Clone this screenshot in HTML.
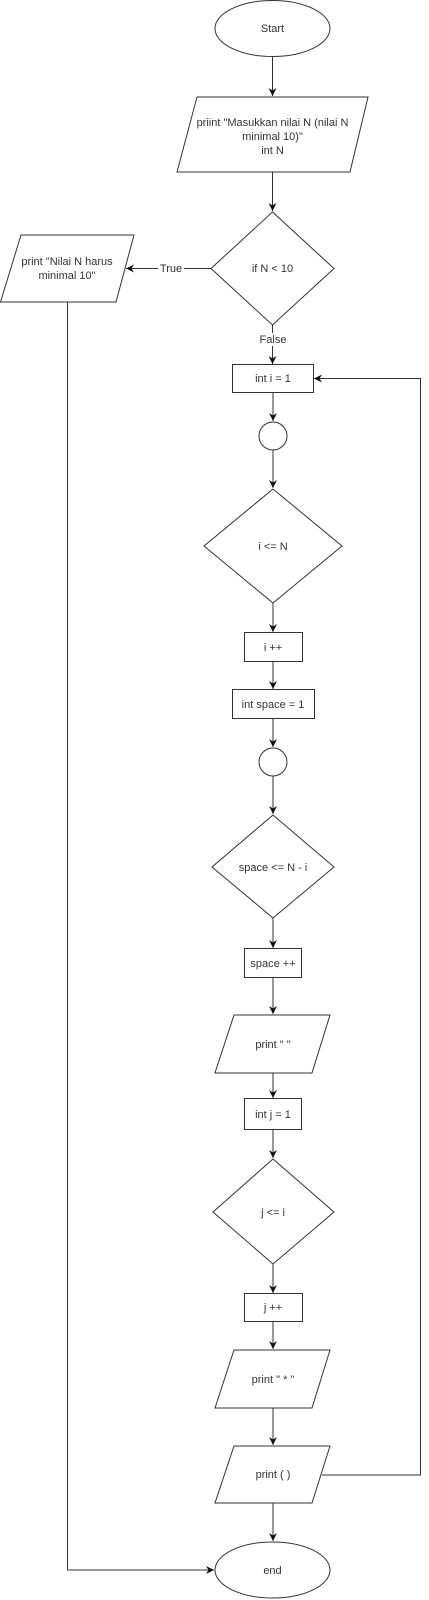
<!DOCTYPE html>
<html><head><meta charset="utf-8"><style>
html,body{margin:0;padding:0;background:#fff;}
svg{display:block;}
text{font-family:"Liberation Sans",Arial,sans-serif;font-size:11px;fill:#333;text-anchor:middle;}
</style></head><body>
<svg width="429" height="1600" viewBox="0 0 429 1600" xmlns="http://www.w3.org/2000/svg">
<defs>
<marker id="a" markerWidth="10" markerHeight="10" refX="8" refY="5" orient="auto" markerUnits="userSpaceOnUse">
<path d="M0,1 L8,5 L0,9 L2.5,5 Z" fill="#111"/>
</marker>
</defs>
<g fill="#fff" stroke="#333" stroke-width="1">
<ellipse cx="272.5" cy="28.5" rx="57.5" ry="28"/>
<polygon points="197,97 368,97 350,172 177,172"/>
<polygon points="272.5,212 334,268.5 272.5,325 211,268.5"/>
<polygon points="21,235 134,235 116,302 0.5,302"/>
<rect x="232.5" y="364.5" width="81" height="28"/>
<circle cx="273" cy="436" r="14"/>
<polygon points="273,489 342,546 273,603 204,546"/>
<rect x="244.5" y="632.5" width="58" height="29"/>
<rect x="232.5" y="689.5" width="82" height="29"/>
<circle cx="273" cy="762" r="14"/>
<polygon points="273,815 334,867 273,918 212,867"/>
<rect x="244.5" y="948.5" width="57" height="29"/>
<polygon points="234,1015 330,1015 312,1073 215,1073"/>
<rect x="244.5" y="1098.5" width="57" height="31"/>
<polygon points="273,1159 334,1212 273,1264 213,1212"/>
<rect x="244.5" y="1293.5" width="58" height="28"/>
<polygon points="234,1350 330,1350 312,1408 215,1408"/>
<polygon points="234,1446 330,1446 312,1503 215,1503"/>
<ellipse cx="272.5" cy="1570" rx="57.5" ry="28"/>
</g>
<g fill="none" stroke="#333" stroke-width="1">
<line x1="272.5" y1="57" x2="272.5" y2="96" marker-end="url(#a)"/>
<line x1="272.5" y1="172" x2="272.5" y2="211" marker-end="url(#a)"/>
<line x1="211" y1="268.5" x2="126" y2="268.5" marker-end="url(#a)"/>
<line x1="272.5" y1="325" x2="272.5" y2="364" marker-end="url(#a)"/>
<polyline points="67.5,302 67.5,1570 214,1570" marker-end="url(#a)"/>
<line x1="273" y1="393" x2="273" y2="421" marker-end="url(#a)"/>
<line x1="273" y1="450" x2="273" y2="488" marker-end="url(#a)"/>
<line x1="273" y1="603" x2="273" y2="632" marker-end="url(#a)"/>
<line x1="273" y1="662" x2="273" y2="689" marker-end="url(#a)"/>
<line x1="273" y1="719" x2="273" y2="747" marker-end="url(#a)"/>
<line x1="273" y1="776" x2="273" y2="814" marker-end="url(#a)"/>
<line x1="273" y1="918" x2="273" y2="948" marker-end="url(#a)"/>
<line x1="273" y1="978" x2="273" y2="1014" marker-end="url(#a)"/>
<line x1="273" y1="1073" x2="273" y2="1098" marker-end="url(#a)"/>
<line x1="273" y1="1130" x2="273" y2="1158" marker-end="url(#a)"/>
<line x1="273" y1="1264" x2="273" y2="1293" marker-end="url(#a)"/>
<line x1="273" y1="1322" x2="273" y2="1349" marker-end="url(#a)"/>
<line x1="273" y1="1408" x2="273" y2="1445" marker-end="url(#a)"/>
<line x1="273" y1="1503" x2="273" y2="1541" marker-end="url(#a)"/>
<polyline points="322,1475 420.5,1475 420.5,378.5 314,378.5" marker-end="url(#a)"/>
</g>
<rect x="158" y="262" width="26" height="13" fill="#fff"/>
<rect x="255" y="333" width="36" height="13" fill="#fff"/>
<text x="272.5" y="32">Start</text>
<text x="272.5" y="126">priint "Masukkan nilai N (nilai N</text>
<text x="272.5" y="140">minimal 10)"</text>
<text x="272.5" y="154">int N</text>
<text x="272.5" y="272">if N &lt; 10</text>
<text x="67" y="265">print "Nilai N harus</text>
<text x="67" y="279">minimal 10"</text>
<text x="171" y="272">True</text>
<text x="273" y="343">False</text>
<text x="273" y="382">int i = 1</text>
<text x="273" y="550">i &lt;= N</text>
<text x="273" y="651">i ++</text>
<text x="273" y="708">int space = 1</text>
<text x="273" y="871">space &lt;= N - i</text>
<text x="273" y="967">space ++</text>
<text x="273" y="1048">print "  "</text>
<text x="273" y="1118">int j = 1</text>
<text x="273" y="1216">j &lt;= i</text>
<text x="273" y="1311">j ++</text>
<text x="273" y="1383">print " * "</text>
<text x="273" y="1478">print ( )</text>
<text x="272.5" y="1574">end</text>
</svg>
</body></html>
